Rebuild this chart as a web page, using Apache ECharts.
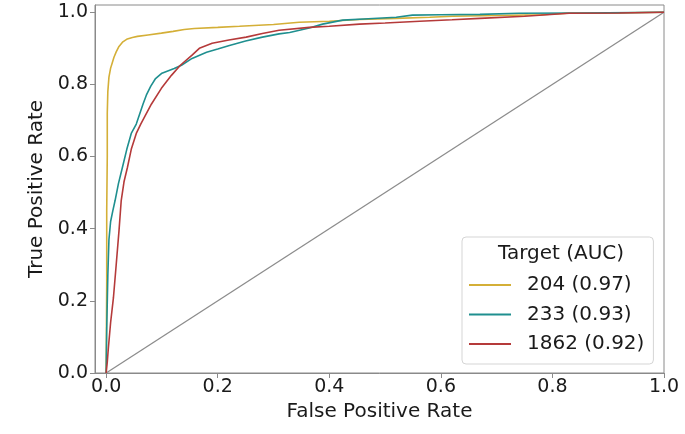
<!DOCTYPE html>
<html>
<head>
<meta charset="utf-8">
<script src="https://cdn.jsdelivr.net/npm/echarts@6/dist/echarts.min.js"></script>
<style>html,body{margin:0;padding:0;background:#fff;}#c{width:685px;height:434px;}</style>
</head>
<body>
<div id="c"></div>
<script>
const tickValues = [0, 0.2, 0.4, 0.6, 0.8, 1.0];
const seriesNames = ['204 (0.97)', '233 (0.93)', '1862 (0.92)'];
const legendTitle = 'Target (AUC)';

const fpr204 = [0, 0.001, 0.001, 0.002, 0.002, 0.003, 0.005, 0.008, 0.011, 0.014, 0.018, 0.023, 0.03, 0.038, 0.047, 0.056, 0.075, 0.099, 0.12, 0.14, 0.158, 0.2, 0.239, 0.3, 0.346, 0.4, 0.454, 0.52, 0.58, 0.621, 0.7, 0.78, 0.826, 0.9, 1.0];
const tpr204 = [0, 0.25, 0.45, 0.6, 0.72, 0.78, 0.82, 0.845, 0.86, 0.875, 0.89, 0.905, 0.918, 0.926, 0.93, 0.933, 0.937, 0.942, 0.947, 0.952, 0.955, 0.958, 0.961, 0.966, 0.972, 0.975, 0.98, 0.983, 0.986, 0.989, 0.991, 0.993, 0.997, 0.998, 1.0];

const fpr233 = [0, 0.001, 0.003, 0.005, 0.008, 0.012, 0.016, 0.022, 0.029, 0.037, 0.045, 0.054, 0.066, 0.072, 0.08, 0.088, 0.1, 0.122, 0.135, 0.154, 0.18, 0.2, 0.221, 0.25, 0.28, 0.31, 0.329, 0.364, 0.388, 0.424, 0.47, 0.52, 0.549, 0.6, 0.67, 0.74, 0.85, 1.0];
const tpr233 = [0, 0.12, 0.27, 0.37, 0.42, 0.45, 0.478, 0.525, 0.569, 0.62, 0.664, 0.69, 0.745, 0.77, 0.795, 0.815, 0.831, 0.844, 0.853, 0.872, 0.889, 0.898, 0.908, 0.92, 0.931, 0.94, 0.944, 0.956, 0.967, 0.978, 0.982, 0.986, 0.992, 0.993, 0.994, 0.997, 0.998, 1.0];

const fpr1862 = [0, 0.002, 0.004, 0.008, 0.013, 0.018, 0.023, 0.027, 0.032, 0.038, 0.045, 0.054, 0.062, 0.071, 0.081, 0.099, 0.117, 0.133, 0.154, 0.167, 0.19, 0.22, 0.251, 0.28, 0.31, 0.364, 0.4, 0.454, 0.5, 0.562, 0.62, 0.67, 0.75, 0.83, 0.92, 1.0];
const tpr1862 = [0, 0.03, 0.07, 0.14, 0.208, 0.3, 0.394, 0.478, 0.53, 0.569, 0.62, 0.664, 0.69, 0.716, 0.745, 0.789, 0.825, 0.853, 0.881, 0.9, 0.914, 0.923, 0.931, 0.941, 0.95, 0.958, 0.961, 0.967, 0.97, 0.975, 0.979, 0.983, 0.989, 0.997, 0.998, 1.0];

const diagX = [0, 1];
const diagY = [0, 1];

const colors = ['#D4AF37', '#1F8F8F', '#B53A3A'];
const zip = (a, b) => a.map((v, i) => [v, b[i]]);
const FONT = 'DejaVu Sans';

const chart = echarts.init(document.getElementById('c'), null, {renderer: 'canvas'});
const axisCommon = {
  type: 'value',
  axisLine: {show: true, onZero: false, lineStyle: {color: '#8a8a8a', width: 1}},
  axisTick: {show: true, length: 5, inside: false, lineStyle: {color: '#8a8a8a'}, customValues: tickValues},
  axisLabel: {customValues: tickValues, color: '#1a1a1a', fontSize: 19, fontFamily: FONT, formatter: v => v.toFixed(1)},
  splitLine: {show: false},
  nameLocation: 'middle',
  nameTextStyle: {color: '#1a1a1a', fontSize: 20, fontFamily: FONT}
};
chart.setOption({
  animation: false,
  backgroundColor: '#fff',
  grid: {left: 95, right: 21, top: 5, bottom: 61, show: true, borderColor: '#8a8a8a', borderWidth: 1, containLabel: false},
  xAxis: Object.assign({}, axisCommon, {min: -0.02, max: 1.0, name: 'False Positive Rate', nameGap: 24,
    axisLabel: Object.assign({}, axisCommon.axisLabel, {margin: 5})}),
  yAxis: Object.assign({}, axisCommon, {min: 0, max: 1.02, name: 'True Positive Rate', nameGap: 41,
    axisLabel: Object.assign({}, axisCommon.axisLabel, {margin: 7})}),
  legend: {
    orient: 'vertical', left: 462, top: 237,
    padding: [38, 9, 10, 7],
    itemGap: 9.5, itemWidth: 42, itemHeight: 2, icon: 'rect',
    backgroundColor: '#fff', borderColor: '#d5d5d5', borderWidth: 1, borderRadius: 4,
    textStyle: {fontSize: 20, fontFamily: FONT, color: '#1a1a1a', lineHeight: 20, padding: [0, 0, 0, 11]},
    data: seriesNames
  },
  graphic: [{type: 'text', left: 558 - 60, top: 244, z: 100,
    style: {text: legendTitle, width: 120, align: 'center', fontSize: 20, fontFamily: FONT, fill: '#1a1a1a'}}],
  series: [
    {type: 'line', name: 'diag', data: zip(diagX, diagY), showSymbol: false, symbol: 'none',
      lineStyle: {color: '#8c8c8c', width: 1.3}, z: 1, silent: true},
    {type: 'line', name: seriesNames[0], data: zip(fpr204, tpr204), showSymbol: false, symbol: 'none',
      itemStyle: {color: colors[0]}, lineStyle: {color: colors[0], width: 1.6}, z: 2},
    {type: 'line', name: seriesNames[1], data: zip(fpr233, tpr233), showSymbol: false, symbol: 'none',
      itemStyle: {color: colors[1]}, lineStyle: {color: colors[1], width: 1.6}, z: 3},
    {type: 'line', name: seriesNames[2], data: zip(fpr1862, tpr1862), showSymbol: false, symbol: 'none',
      itemStyle: {color: colors[2]}, lineStyle: {color: colors[2], width: 1.6}, z: 4}
  ]
});
</script>
</body>
</html>
